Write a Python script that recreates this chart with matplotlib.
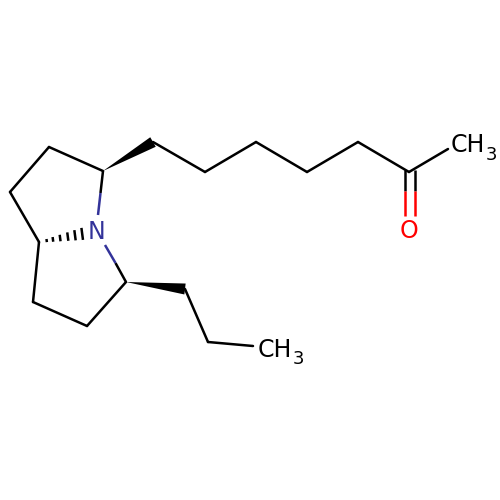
import matplotlib
matplotlib.use("Agg")
import matplotlib.pyplot as plt
from matplotlib.patches import Polygon

# atom positions (pixel units)
atoms = {
    "c1": (103, 171), "c2": (49, 147), "c3": (10, 192), "c4": (39, 242),
    "c5": (33, 302), "c6": (87, 326), "c7": (126, 282), "n": (97, 232),
    "a1": (153, 142), "a2": (205, 172), "a3": (256, 142), "a4": (307, 172),
    "a5": (358, 142), "a6": (409, 172), "me": (448, 149),
    "p1": (185, 289), "p2": (208, 342), "p3": (253, 346),
}
plain_bonds = [("c1", "c2"), ("c2", "c3"), ("c3", "c4"), ("c4", "c5"), ("c5", "c6"),
               ("c6", "c7"), ("a1", "a2"), ("a2", "a3"), ("a3", "a4"), ("a4", "a5"),
               ("a5", "a6"), ("a6", "me"), ("p1", "p2"), ("p2", "p3")]
wedges = [("c1", "a1"), ("c7", "p1")]
# coloured bonds: start, midpoint, end at label
hetero_n = [((103, 171), (100.5, 193), (98, 215)), ((126, 282), (115.5, 263), (105, 245))]
carbonyl_x = [404.5, 414.5]
carbonyl_y = [170, 191, 216]
hash_fracs = [0.16, 0.29, 0.44, 0.60, 0.75, 0.90]

BLACK = "#000000"
BLUE = "#33339a"
RED = "#ff0000"
LW = 1.8

fig = plt.figure(figsize=(5, 5), dpi=100, facecolor="white")
ax = fig.add_axes([0, 0, 1, 1])
ax.set_xlim(0, 500)
ax.set_ylim(500, 0)
ax.axis("off")

for a, b in plain_bonds:
    ax.plot(*zip(atoms[a], atoms[b]), color=BLACK, lw=LW, solid_capstyle="round")

for a, b in wedges:
    (x0, y0), (x1, y1) = atoms[a], atoms[b]
    dx, dy = x1 - x0, y1 - y0
    d = (dx * dx + dy * dy) ** 0.5
    nx, ny = -dy / d * 5.5, dx / d * 5.5
    ax.add_patch(Polygon([(x0, y0), (x1 + nx, y1 + ny), (x1 - nx, y1 - ny)],
                         closed=True, color=BLACK, lw=0))

for start, mid, end in hetero_n:
    ax.plot(*zip(start, mid), color=BLACK, lw=LW, solid_capstyle="butt")
    ax.plot(*zip(mid, end), color=BLUE, lw=LW, solid_capstyle="butt")

for x in carbonyl_x:
    ax.plot([x, x], carbonyl_y[:2], color=BLACK, lw=LW, solid_capstyle="butt")
    ax.plot([x, x], carbonyl_y[1:], color=RED, lw=LW, solid_capstyle="butt")

(hx0, hy0) = atoms["c4"]
hx1, hy1 = 87, 233
for f in hash_fracs:
    cx, cy = hx0 + (hx1 - hx0) * f, hy0 + (hy1 - hy0) * f
    h = 0.6 + 6 * f
    ax.plot([cx - 0.13 * h, cx + 0.13 * h], [cy - h, cy + h], color=BLACK, lw=LW,
            solid_capstyle="butt")

fs = 17
ax.text(97, 232, "N", color=BLUE, fontsize=fs, ha="center", va="center", family="DejaVu Sans")
ax.text(409, 231, "O", color=RED, fontsize=fs, ha="center", va="center", family="DejaVu Sans")
ax.text(451, 152, "CH", color=BLACK, fontsize=fs, ha="left", va="baseline", family="DejaVu Sans")
ax.text(486, 160, "3", color=BLACK, fontsize=13, ha="left", va="baseline", family="DejaVu Sans")
ax.text(258, 357, "CH", color=BLACK, fontsize=fs, ha="left", va="baseline", family="DejaVu Sans")
ax.text(293, 364, "3", color=BLACK, fontsize=13, ha="left", va="baseline", family="DejaVu Sans")

fig.savefig("out.png", dpi=100, facecolor="white")
